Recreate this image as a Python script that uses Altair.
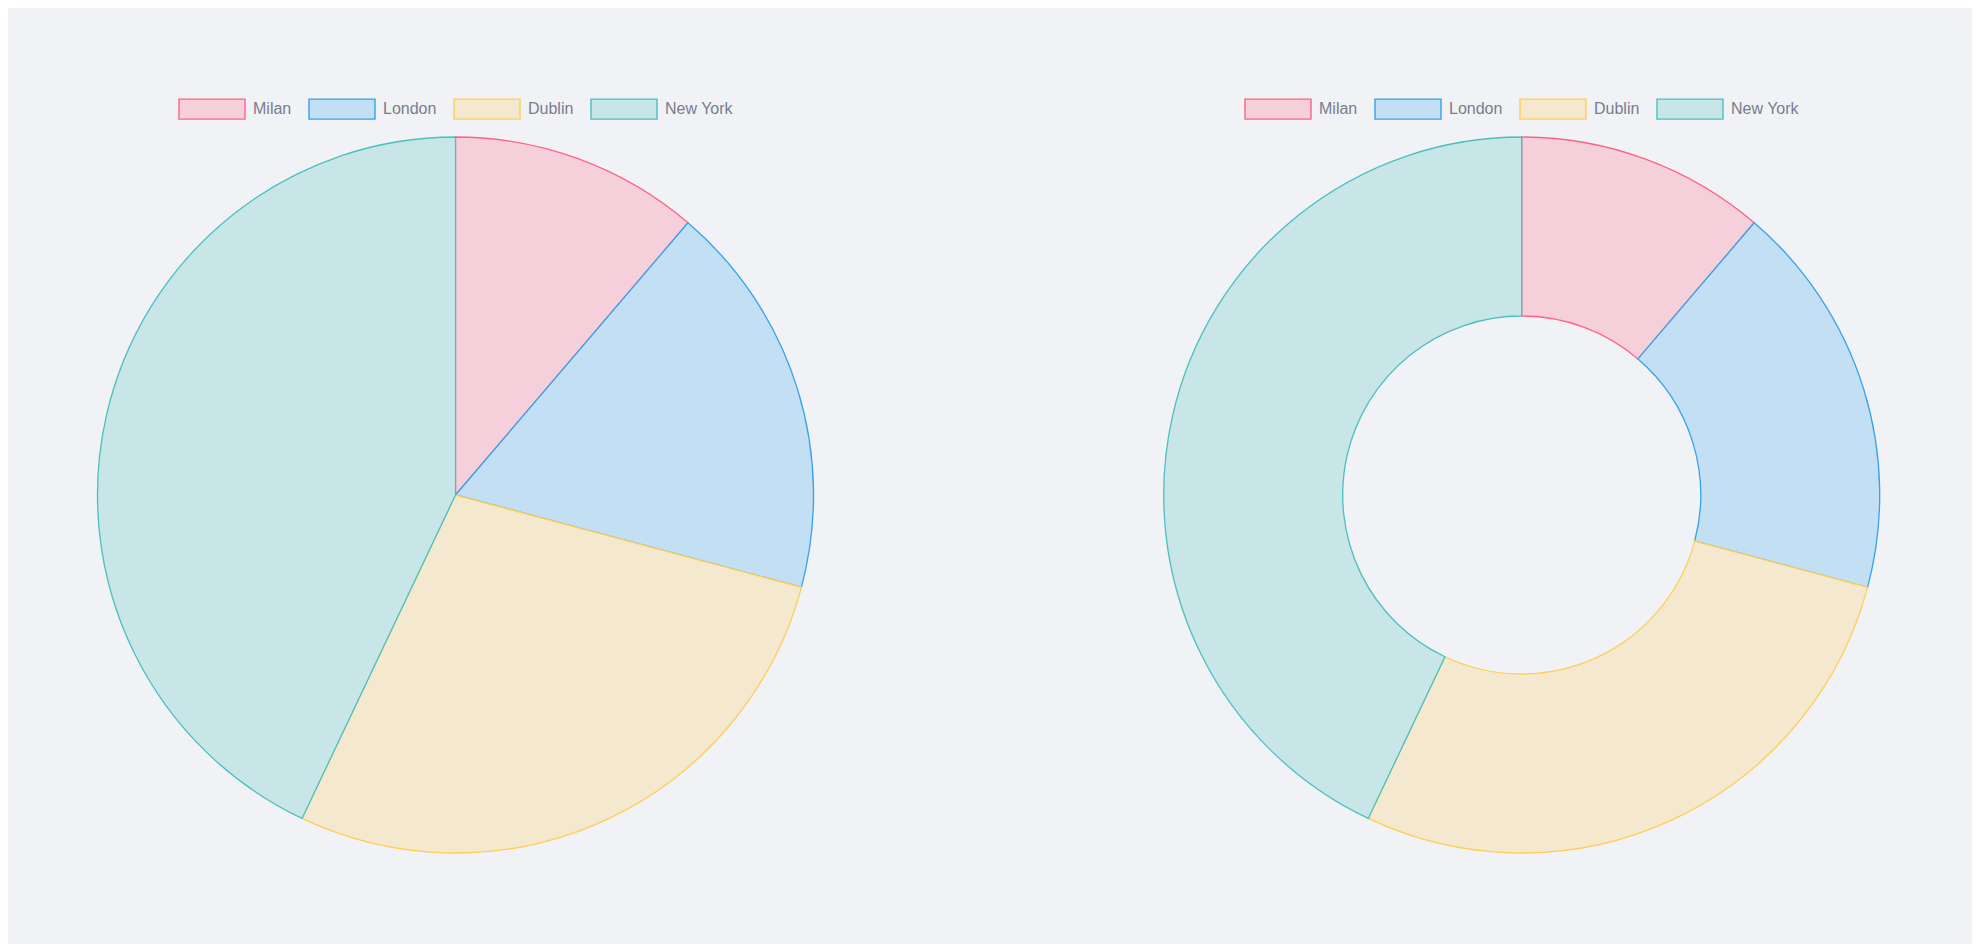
import altair as alt
import pandas as pd

cities = ["Milan", "London", "Dublin", "New York"]
values = [11.25, 17.9, 27.9, 42.95]
fill_colors = ["#f5cfd9", "#c3dff3", "#f4e9cf", "#c8e5e7"]
stroke_colors = ["#ff6384", "#36a2eb", "#ffce56", "#4bc0c0"]

BG = "#f0f2f5"
LEGEND_PATH = "M-1,-0.303H1V0.303H-1Z"


def make_df(name):
    return pd.DataFrame({
        "city": cities,
        "value": values,
        "idx": list(range(len(cities))),
        "chart": [name] * len(cities),
    })


def legend(x):
    return alt.Legend(
        orient="none", legendX=x, legendY=67, direction="horizontal",
        title=None, symbolType=LEGEND_PATH, symbolSize=4356,
        symbolStrokeWidth=1.4, symbolOpacity=1, labelFont="Liberation Sans",
        labelFontSize=16, labelColor="#7a7d8c", labelOffset=7,
        columnPadding=14, padding=0,
    )


def pie(name, cx, inner, lx):
    order_sort = alt.EncodingSortField(field="idx", op="min")
    return alt.Chart(make_df(name)).mark_arc(
        radius=358, radius2=inner, strokeWidth=1.3
    ).encode(
        theta=alt.Theta("value:Q", stack=True),
        order=alt.Order("idx:Q"),
        fill=alt.Fill("city:N", sort=order_sort,
                      scale=alt.Scale(range=fill_colors), legend=legend(lx)),
        stroke=alt.Stroke("city:N", sort=order_sort,
                          scale=alt.Scale(range=stroke_colors), legend=legend(lx)),
        x=alt.value(cx),
        y=alt.value(487),
    )


left = pie("pie", 447.5, 0, 170)
right = pie("doughnut", 1513.7, 179, 1236)

chart = alt.layer(left, right).resolve_scale(
    fill="independent", stroke="independent"
).properties(
    width=1964, height=936, autosize="none", padding=0, background=BG
).configure_view(stroke=None)

chart.save("out.html", embed_options={"renderer": "svg", "actions": False})
